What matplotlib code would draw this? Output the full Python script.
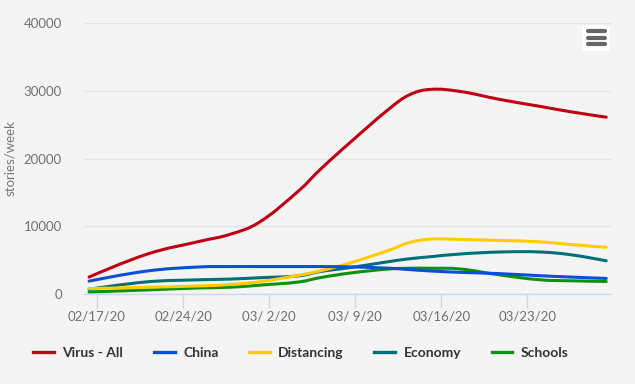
import matplotlib
matplotlib.use("Agg")
import matplotlib.pyplot as plt
from matplotlib.path import Path
from matplotlib.patches import PathPatch, FancyBboxPatch
from matplotlib.lines import Line2D

plt.rcParams['font.family'] = ['Lato', 'DejaVu Sans']

# days after 02/17/20
days = [-0.65, 4.1, 8.4, 10.8, 13.2, 16.5, 18.1, 20.6, 23.8, 25.4, 27.1, 29.5, 32.8, 36.0, 38.5, 41.4]

virus_all = [2500, 5900, 7800, 8800, 10600, 15400, 18300, 22400, 27400, 29400, 30200, 29900, 28700, 27700, 26900, 26100]
china = [1900, 3400, 4000, 4050, 4050, 4050, 4050, 4000, 3800, 3600, 3400, 3200, 3000, 2700, 2500, 2300]
distancing = [800, 1000, 1200, 1400, 1800, 2800, 3400, 4600, 6500, 7600, 8100, 8050, 7900, 7700, 7300, 6900]
economy = [700, 1800, 2100, 2200, 2400, 2700, 3300, 3900, 4800, 5200, 5500, 5900, 6200, 6200, 5800, 4900]
schools = [300, 600, 900, 1000, 1300, 1800, 2400, 3100, 3700, 3800, 3800, 3700, 2800, 2100, 1950, 1850]

series_names = ["Virus - All", "China", "Distancing", "Economy", "Schools"]
series_colors = ["#c00010", "#0a50d2", "#ffcc00", "#007078", "#109010"]

tick_days = [0, 7, 14, 21, 28, 35]
tick_labels = ["02/17/20", "02/24/20", "03/ 2/20", "03/ 9/20", "03/16/20", "03/23/20"]


def spline_path(xs, ys):
    # highcharts-like spline: bezier control points with smoothing 1.5
    n = len(xs)
    verts = [(xs[0], ys[0])]
    codes = [Path.MOVETO]
    left = [None] * n
    right = [None] * n
    for i in range(n):
        if i == 0 or i == n - 1:
            left[i] = (xs[i], ys[i])
            right[i] = (xs[i], ys[i])
            continue
        x, y = xs[i], ys[i]
        lx = (1.5 * x + xs[i - 1]) / 2.5
        ly = (1.5 * y + ys[i - 1]) / 2.5
        rx = (1.5 * x + xs[i + 1]) / 2.5
        ry = (1.5 * y + ys[i + 1]) / 2.5
        if rx != lx:
            corr = ((ry - ly) * (rx - x)) / (rx - lx) + y - ry
            ly += corr
            ry += corr
        left[i] = (lx, ly)
        right[i] = (rx, ry)
    for i in range(1, n):
        verts += [right[i - 1], left[i], (xs[i], ys[i])]
        codes += [Path.CURVE4] * 3
    return Path(verts, codes)


fig = plt.figure(figsize=(6.35, 3.84), dpi=100, facecolor="#f4f4f4")
ax = fig.add_axes([84 / 635, 90 / 384, 527 / 635, 271 / 384])
ax.set_facecolor("#f4f4f4")

all_series = [virus_all, china, distancing, economy, schools]
for vals, col in zip(all_series[::-1], series_colors[::-1]):
    patch = PathPatch(spline_path(days, vals), facecolor="none", edgecolor=col,
                      linewidth=2.2, capstyle="round", joinstyle="round", zorder=3)
    ax.add_patch(patch)

ax.set_xlim(-1.06, 41.79)
ax.set_ylim(0, 40000)
ax.set_yticks([0, 10000, 20000, 30000, 40000])
ax.set_yticklabels(["0", "10000", "20000", "30000", "40000"])
ax.set_xticks(tick_days)
ax.set_xticklabels(tick_labels)

ax.grid(axis="y", color="#e3e3e3", linewidth=1)
ax.set_axisbelow(True)
for side in ["top", "right", "left"]:
    ax.spines[side].set_visible(False)
ax.spines["bottom"].set_color("#ccd6eb")
ax.spines["bottom"].set_linewidth(1)
ax.tick_params(axis="x", colors="#ccd6eb", length=10, width=1, pad=2,
               labelcolor="#707070", labelsize=9.5)
ax.tick_params(axis="y", length=0, pad=16, labelcolor="#707070", labelsize=9.5)

fig.text(10 / 635, 1 - 158 / 384, "stories/week", rotation=90, color="#777777",
         fontsize=9.5, ha="center", va="center")

handles = [Line2D([], [], color=c, linewidth=2.4) for c in series_colors]
fig.legend(handles, series_names, loc="center", bbox_to_anchor=(0.474, 1 - 353 / 384),
           ncol=5, frameon=False, handlelength=1.5, handletextpad=0.6,
           columnspacing=2.2, prop={"weight": "bold", "size": 10},
           labelcolor="#333333")

# context menu button
fig.patches.append(FancyBboxPatch((582 / 635, 1 - 51 / 384), 28 / 635, 26 / 384,
                                  boxstyle="round,pad=0,rounding_size=0.006",
                                  transform=fig.transFigure, facecolor="white",
                                  edgecolor="none"))
for yy in [31, 37.5, 44]:
    fig.add_artist(Line2D([588 / 635, 605 / 635], [1 - yy / 384, 1 - yy / 384],
                          color="#666666", linewidth=3, solid_capstyle="round",
                          transform=fig.transFigure))

fig.savefig("out.png", dpi=100, facecolor=fig.get_facecolor())
